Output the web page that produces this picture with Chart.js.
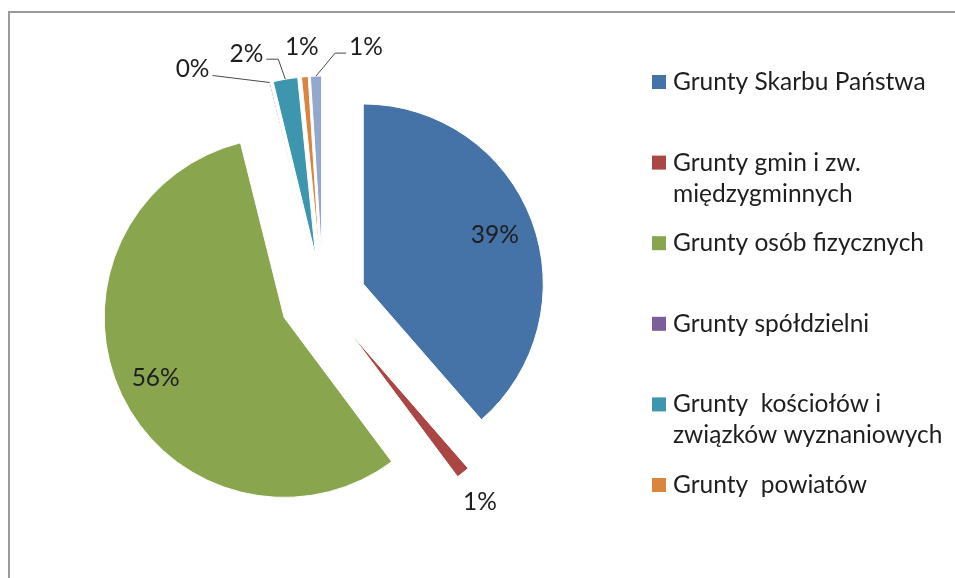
<!DOCTYPE html>
<html><head><meta charset="utf-8">
<script src="https://cdn.jsdelivr.net/npm/chart.js@4.4.1/dist/chart.umd.min.js"></script>
<style>
html,body{margin:0;padding:0;background:#fff;width:955px;height:578px;overflow:hidden}
#wrap{position:relative;width:955px;height:578px}
#frame{position:absolute;left:8px;top:11px;width:980px;height:620px;border-left:2px solid #9a9a9a;border-top:2px solid #9a9a9a;pointer-events:none}
canvas{position:absolute;left:0;top:0}
</style></head><body>
<div id="wrap"><canvas id="c" width="955" height="578"></canvas><div id="frame"></div></div>
<script>
// ---- data ----
const categories = [
  ['Grunty Skarbu Państwa'],
  ['Grunty gmin i zw.', 'międzygminnych'],
  ['Grunty osób fizycznych'],
  ['Grunty spółdzielni'],
  ['Grunty  kościołów i', 'związków wyznaniowych'],
  ['Grunty  powiatów'],
  ['Grunty województw']
];
const shares = [38.6, 1.2, 56.3, 0.1, 2.2, 0.6, 1.0];
const colors = ['#4572A7', '#AA4643', '#89A54E', '#7B5F9A', '#3D96AE', '#DB843D', '#92A8CD'];
const legendShown = 6;

// ---- styles ----
const FONT = '24.5px Lato';
const TEXT = '#1e1e1e';
const EXPLODE = 43;
// label placement: inside (fraction of radius) or outside offset from slice's outer midpoint
const labelStyle = [
  {inside: 0.78},
  {dx: 17, dy: 29},
  {inside: 0.79},
  {dx: -77, dy: -13, leader: {side: 'right', dy: 6, elbow: 0}},
  {dx: -39, dy: -25, leader: {side: 'right', dy: 5, elbow: 12}},
  {dx: -3, dy: -30},
  {dx: 50, dy: -29, leader: {side: 'left', dy: 6, elbow: 11}}
];

function midOf(a) { return (a.startAngle + a.endAngle) / 2; }

const explodePlugin = {
  id: 'explode',
  beforeDatasetDraw(chart, args) {
    const ctx = chart.ctx;
    const meta = args.meta;
    meta.data.forEach(arc => {
      const m = midOf(arc);
      ctx.save();
      ctx.translate(Math.cos(m) * EXPLODE, Math.sin(m) * EXPLODE);
      arc.draw(ctx);
      ctx.restore();
    });
    return false;
  }
};

const labelPlugin = {
  id: 'labels',
  afterDatasetsDraw(chart) {
    const ctx = chart.ctx;
    const meta = chart.getDatasetMeta(0);
    const vals = chart.data.datasets[0].data;
    ctx.save();
    ctx.font = FONT;
    ctx.fillStyle = TEXT;
    ctx.textAlign = 'center';
    ctx.textBaseline = 'middle';
    meta.data.forEach((arc, i) => {
      const st = labelStyle[i];
      const m = midOf(arc);
      const R = arc.outerRadius;
      const txt = Math.round(vals[i]) + '%';
      let cx, cy;
      if (st.inside !== undefined) {
        cx = arc.x + Math.cos(m) * (EXPLODE + R * st.inside);
        cy = arc.y + Math.sin(m) * (EXPLODE + R * st.inside);
      } else {
        const px = arc.x + Math.cos(m) * (EXPLODE + R);
        const py = arc.y + Math.sin(m) * (EXPLODE + R);
        cx = px + st.dx; cy = py + st.dy;
        if (st.leader) {
          const w = ctx.measureText(txt).width;
          const L = st.leader;
          const sx = L.side === 'right' ? cx + w / 2 + 3 : cx - w / 2 - 3;
          const sy = cy + L.dy;
          const ex = L.side === 'right' ? sx + L.elbow : sx - L.elbow;
          ctx.save();
          ctx.strokeStyle = '#4a4a4a';
          ctx.lineWidth = 1;
          ctx.beginPath();
          ctx.moveTo(sx, sy);
          ctx.lineTo(ex, sy);
          ctx.lineTo(px, py);
          ctx.stroke();
          ctx.restore();
        }
      }
      ctx.fillText(txt, cx, cy);
    });
    ctx.restore();
  }
};

const legendPlugin = {
  id: 'sideLegend',
  afterDraw(chart) {
    const ctx = chart.ctx;
    const labels = chart.data.labels;
    const bg = chart.data.datasets[0].backgroundColor;
    const x0 = 652, box = 14, tx = 673, top = 82, step = 80.6, lineGap = 31;
    ctx.save();
    ctx.font = FONT;
    ctx.fillStyle = TEXT;
    ctx.textAlign = 'left';
    ctx.textBaseline = 'middle';
    for (let i = 0; i < Math.min(legendShown, labels.length); i++) {
      const y = top + i * step;
      ctx.fillStyle = bg[i];
      ctx.fillRect(x0, y - box / 2, box, box);
      ctx.fillStyle = TEXT;
      const lines = Array.isArray(labels[i]) ? labels[i] : [labels[i]];
      lines.forEach((t, k) => ctx.fillText(t, tx, y + k * lineGap));
    }
    ctx.restore();
  }
};

new Chart(document.getElementById('c'), {
  type: 'pie',
  data: {
    labels: categories,
    datasets: [{
      data: shares,
      backgroundColor: colors,
      borderColor: '#ffffff',
      borderWidth: 1
    }]
  },
  options: {
    responsive: false,
    animation: false,
    devicePixelRatio: 1,
    radius: 180,
    layout: {padding: {left: 0, right: 309, top: 20, bottom: 0}},
    plugins: {legend: {display: false}, tooltip: {enabled: false}, title: {display: false}}
  },
  plugins: [explodePlugin, labelPlugin, legendPlugin]
});
</script>
</body></html>
